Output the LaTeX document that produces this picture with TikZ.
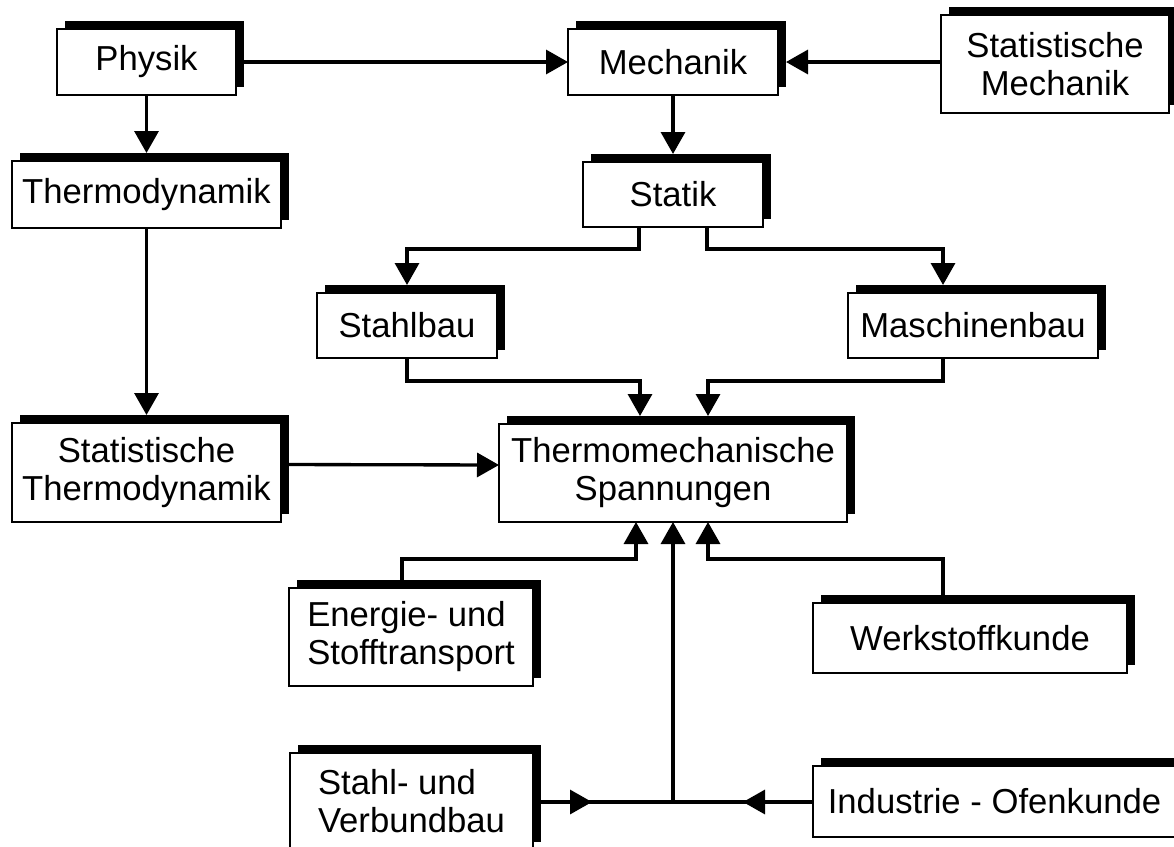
\documentclass[tikz,border=0pt]{standalone}
\usepackage{fontspec}
\setmainfont{Liberation Sans}
\usetikzlibrary{arrows.meta,shadows}
\tikzset{
  bx/.style 2 args={draw=black, line width=1.6pt, fill=white, inner sep=0pt, outer sep=0pt,
    minimum width=#1*0.75pt, minimum height=#2*0.75pt,
    font=\fontsize{26}{28.5}\selectfont,
    general shadow={fill=black, shadow xshift=6pt, shadow yshift=6pt}},
  line/.style={line width=2.5pt},
  conn/.style={line width=2.5pt, -{Triangle[length=16.5pt,width=18pt]}},
  into/.style={shorten >=6pt},
}
\begin{document}
\begin{tikzpicture}[x=0.75pt,y=-0.75pt]
\useasboundingbox (0,0) rectangle (1174,846);
\clip (0,0) rectangle (1174,846);
% boxes
\node[bx={179}{66}] (phys) at (146.5,62) {Physik};
\node[bx={210}{66}] (mech) at (673,62) {Mechanik};
\node[bx={228}{98}, align=center] (stm) at (1055,64) {Statistische\\Mechanik};
\node[bx={269}{67}] (thermo) at (146.5,194.5) {Thermodynamik};
\node[bx={180}{65}] (statik) at (673,194.5) {Statik};
\node[bx={180}{65}] (stahl) at (407,325.5) {Stahlbau};
\node[bx={250}{65}] (masch) at (973,325.5) {Maschinenbau};
\node[bx={269}{99}, align=center] (statth) at (146.5,472.5) {Statistische\\Thermodynamik};
\node[bx={348}{98}, align=center] (ts) at (673,473) {Thermomechanische\\Spannungen};
\node[bx={244}{98}, align=left] (energie) at (411,637) {Energie- und\\Stofftransport};
\node[bx={314}{70}] (werk) at (970,638) {Werkstoffkunde};
\node[bx={243}{97}, align=left] (svb) at (411.5,801.5) {Stahl- und\\Verbundbau};
\node[bx={363}{71}] (ind) at (994.5,801.5) {Industrie - Ofenkunde};
% helper coordinates
\coordinate (j) at (673,802);
\coordinate (ja) at (592,802);
\coordinate (jb) at (743,802);
% connectors
\draw[conn] (phys.east) -- (mech.west);
\draw[conn,into] (stm.west |- mech) -- (mech.east);
\draw[conn,into] (phys.south) -- (thermo.north);
\draw[conn,into] (mech.south) -- (statik.north);
\draw[conn,into] (statik.south -| 639,0) -- ++(0,22) -| (stahl.north);
\draw[conn,into] (statik.south -| 707,0) -- ++(0,22) -| (masch.north -| 943,0);
\draw[conn,into] (thermo.south) -- (statth.north);
\draw[conn,into] (stahl.south) -- ++(0,23) -| (ts.north -| 640,0);
\draw[conn,into] (masch.south -| 943,0) -- ++(0,23) -| (ts.north -| 708,0);
\draw[conn] ([yshift=6pt]statth.east) -- ([yshift=6pt]ts.west);
\draw[conn] (energie.north -| 402,0) -- ++(0,-29) -| (ts.south -| 636,0);
\draw[conn] (werk.north -| 943,0) -- ++(0,-44) -| (ts.south -| 708,0);
\draw[conn] (j) -- (ts.south);
\draw[line] (svb.east |- j) -- (j);
\draw[conn] (svb.east |- j) -- (ja);
\draw[line] (ind.west |- j) -- (j);
\draw[conn] (ind.west |- j) -- (jb);
\end{tikzpicture}
\end{document}
